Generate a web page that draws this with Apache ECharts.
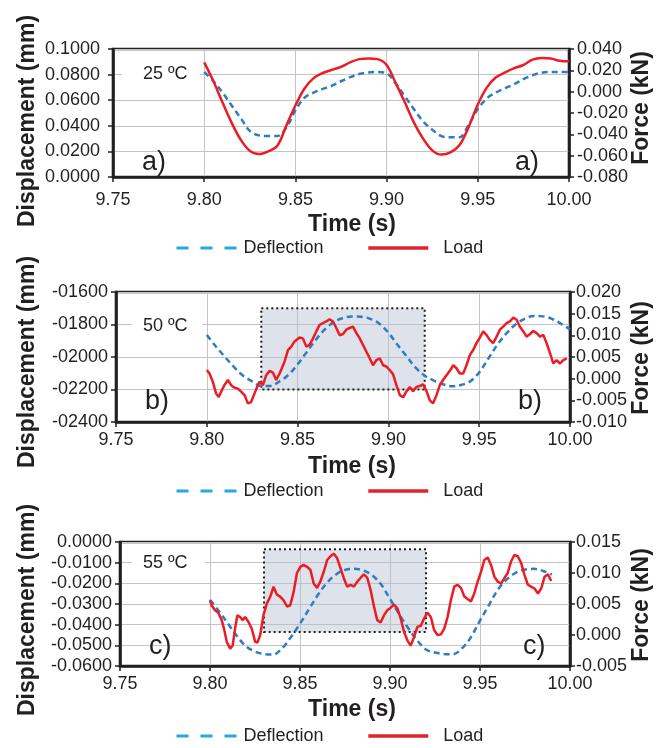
<!DOCTYPE html>
<html>
<head>
<meta charset="utf-8">
<script src="https://cdn.jsdelivr.net/npm/echarts@6/dist/echarts.min.js"></script>
<style>
html,body{margin:0;padding:0;background:#fff;}
#chart{width:665px;height:748px;}
</style>
</head>
<body>
<div id="chart"></div>
<script>
// ---------- DATA ----------
const xTicks = [9.75, 9.80, 9.85, 9.90, 9.95, 10.00];
const panelTemps = ['25 ºC', '50 ºC', '55 ºC'];
const panelLetters = ['a)', 'b)', 'c)'];
const seriesNames = ['Deflection', 'Load'];

const timeA = [9.800,9.805,9.810,9.815,9.820,9.825,9.830,9.835,9.840,9.845,
               9.850,9.855,9.860,9.865,9.870,9.875,9.880,9.885,9.890,9.895,
               9.900,9.905,9.910,9.915,9.920,9.925,9.930,9.935,9.940,9.945,
               9.950,9.955,9.960,9.965,9.970,9.975,9.980,9.985,9.990,9.995,
               10.000];

// Panel a (25 ºC)
const deflA = [0.0820,0.0750,0.0660,0.0560,0.0460,0.0360,0.0325,0.0320,0.0320,0.0385,
               0.0520,0.0620,0.0660,0.0688,0.0713,0.0748,0.0780,0.0805,0.0817,0.0820,
               0.0810,0.0730,0.0630,0.0530,0.0435,0.0370,0.0320,0.0310,0.0310,0.0410,
               0.0530,0.0615,0.0660,0.0695,0.0725,0.0765,0.0795,0.0815,0.0820,0.0820,
               0.0820];
const loadA = [0.0274,0.0100,-0.0100,-0.0290,-0.0450,-0.0555,-0.0585,-0.0560,-0.0510,-0.0320,
               -0.0130,0.0030,0.0127,0.0175,0.0205,0.0233,0.0275,0.0305,0.0312,0.0305,
               0.0250,0.0080,-0.0100,-0.0290,-0.0440,-0.0550,-0.0590,-0.0570,-0.0500,-0.0330,
               -0.0120,0.0040,0.0135,0.0180,0.0220,0.0250,0.0300,0.0315,0.0310,0.0290,
               0.0284];

// Panel b (50 ºC)
const deflB = [-1864,-1935,-2000,-2062,-2115,-2150,-2178,-2178,-2150,-2110,
               -2045,-1970,-1895,-1830,-1785,-1760,-1750,-1752,-1765,-1795,
               -1850,-1925,-1995,-2065,-2115,-2145,-2168,-2180,-2172,-2150,
               -2095,-2010,-1925,-1855,-1800,-1765,-1748,-1750,-1765,-1795,
               -1830];
const timeLoadB = [9.8000,9.8015,9.8033,9.8051,9.8066,9.8079,9.8097,9.8116,9.8134,9.8153,
                   9.8171,9.8189,9.8208,9.8226,9.8244,9.8263,9.8281,9.8290,9.8309,9.8327,
                   9.8346,9.8364,9.8382,9.8401,9.8428,9.8447,9.8465,9.8483,9.8511,9.8529,
                   9.8548,9.8566,9.8585,9.8603,9.8621,9.8640,9.8658,9.8676,9.8695,9.8713,
                   9.8732,9.8750,9.8768,9.8787,9.8805,9.8824,9.8842,9.8860,9.8879,9.8897,
                   9.8915,9.8934,9.8952,9.8971,9.8989,9.9007,9.9026,9.9044,9.9063,9.9081,
                   9.9100,9.9118,9.9136,9.9154,9.9173,9.9191,9.9210,9.9228,9.9246,9.9265,
                   9.9283,9.9301,9.9320,9.9338,9.9357,9.9375,9.9393,9.9412,9.9430,9.9449,
                   9.9467,9.9485,9.9504,9.9522,9.9540,9.9559,9.9577,9.9596,9.9614,9.9632,
                   9.9651,9.9669,9.9688,9.9706,9.9724,9.9743,9.9761,9.9780,9.9798,9.9816,
                   9.9835,9.9853,9.9871,9.9890,9.9908,9.9926,9.9945,9.9963,9.9982];
const loadB = [0.0020,0.0012,-0.0007,-0.0034,-0.0042,-0.0030,-0.0015,-0.0003,-0.0015,-0.0021,
               -0.0023,-0.0030,-0.0038,-0.0057,-0.0054,-0.0034,-0.0015,-0.0007,-0.0015,0.0008,
               0.0018,0.0014,-0.0003,0.0012,0.0039,0.0066,0.0074,0.0086,0.0095,0.0093,
               0.0074,0.0078,0.0093,0.0109,0.0124,0.0128,0.0132,0.0137,0.0132,0.0117,
               0.0100,0.0103,0.0113,0.0117,0.0120,0.0105,0.0093,0.0078,0.0062,0.0047,
               0.0031,0.0043,0.0047,0.0031,0.0028,0.0020,0.0010,-0.0015,-0.0038,-0.0043,
               -0.0029,-0.0019,-0.0029,-0.0019,-0.0017,-0.0013,-0.0029,-0.0050,-0.0057,-0.0038,
               -0.0015,-0.0003,0.0008,0.0018,0.0031,0.0024,0.0012,0.0012,0.0031,0.0055,
               0.0066,0.0082,0.0095,0.0109,0.0101,0.0089,0.0082,0.0097,0.0113,0.0120,
               0.0128,0.0132,0.0141,0.0136,0.0120,0.0109,0.0097,0.0103,0.0110,0.0105,
               0.0097,0.0101,0.0082,0.0059,0.0035,0.0043,0.0035,0.0043,0.0047];
const boxB = [9.83, 9.92, -1700, -2200];

// Panel c (55 ºC)
const timeC = [9.800,9.805,9.810,9.815,9.820,9.825,9.830,9.835,9.840,9.845,
               9.850,9.855,9.860,9.865,9.870,9.875,9.880,9.885,9.890,9.895,
               9.900,9.905,9.910,9.915,9.920,9.925,9.930,9.935,9.940,9.945,
               9.950,9.955,9.960,9.965,9.970,9.975,9.980,9.985,9.990];
const deflC = [-0.0280,-0.0335,-0.0395,-0.0455,-0.0505,-0.0530,-0.0542,-0.0545,-0.0515,-0.0460,
               -0.0395,-0.0325,-0.0255,-0.0197,-0.0157,-0.0135,-0.0130,-0.0137,-0.0160,-0.0205,
               -0.0275,-0.0348,-0.0415,-0.0475,-0.0520,-0.0535,-0.0542,-0.0543,-0.0515,-0.0460,
               -0.0380,-0.0305,-0.0230,-0.0180,-0.0148,-0.0133,-0.0130,-0.0140,-0.0157];
const timeLoadC = [9.8000,9.8009,9.8028,9.8046,9.8065,9.8078,9.8093,9.8112,9.8126,9.8139,
                   9.8152,9.8167,9.8182,9.8195,9.8214,9.8232,9.8251,9.8264,9.8279,9.8297,
                   9.8316,9.8335,9.8353,9.8372,9.8390,9.8409,9.8428,9.8446,9.8465,9.8483,
                   9.8502,9.8520,9.8539,9.8558,9.8576,9.8595,9.8613,9.8632,9.8651,9.8669,
                   9.8688,9.8706,9.8725,9.8743,9.8762,9.8781,9.8799,9.8818,9.8836,9.8855,
                   9.8874,9.8892,9.8911,9.8929,9.8948,9.8967,9.8985,9.9004,9.9022,9.9041,
                   9.9059,9.9078,9.9097,9.9115,9.9134,9.9152,9.9171,9.9190,9.9208,9.9227,
                   9.9245,9.9264,9.9283,9.9301,9.9320,9.9338,9.9357,9.9375,9.9394,9.9413,
                   9.9431,9.9450,9.9468,9.9487,9.9506,9.9524,9.9543,9.9561,9.9580,9.9599,
                   9.9617,9.9636,9.9654,9.9673,9.9691,9.9710,9.9729,9.9747,9.9766,9.9784,
                   9.9803,9.9822,9.9840,9.9859,9.9877,9.9896];
const loadC = [0.0056,0.0048,0.0040,0.0036,0.0024,0.0010,-0.0011,-0.0022,-0.0017,0.0010,
               0.0032,0.0029,0.0024,0.0029,0.0021,0.0010,-0.0011,-0.0012,0.0000,0.0032,
               0.0051,0.0062,0.0078,0.0065,0.0062,0.0056,0.0046,0.0048,0.0070,0.0100,
               0.0110,0.0113,0.0110,0.0105,0.0083,0.0076,0.0086,0.0102,0.0121,0.0127,
               0.0131,0.0124,0.0108,0.0092,0.0078,0.0081,0.0078,0.0086,0.0092,0.0098,
               0.0092,0.0073,0.0046,0.0024,0.0020,0.0032,0.0040,0.0044,0.0049,0.0043,
               0.0027,0.0005,-0.0009,-0.0017,-0.0003,0.0013,0.0015,0.0027,0.0036,0.0029,
               0.0008,0.0000,0.0001,0.0010,0.0029,0.0056,0.0078,0.0081,0.0076,0.0062,
               0.0058,0.0054,0.0067,0.0086,0.0102,0.0121,0.0125,0.0113,0.0094,0.0086,
               0.0083,0.0092,0.0100,0.0119,0.0129,0.0127,0.0116,0.0097,0.0081,0.0078,
               0.0075,0.0067,0.0075,0.0094,0.0098,0.0087];
const boxC = [9.83, 9.92, -0.0035, -0.0435];

// Axis ranges [min, max, interval]
const leftAxes  = [[0, 0.1, 0.02], [-2400, -1600, 200], [-0.06, 0, 0.01]];
const rightAxes = [[-0.08, 0.04, 0.02], [-0.01, 0.02, 0.005], [-0.005, 0.015, 0.005]];

// ---------- CHART ----------
const FONT = '"Liberation Sans", Arial, Helvetica, sans-serif';
const INK = '#231f20';
const zip = (t, v) => t.map((x, i) => [x, v[i]]);
const clean = v => (Math.abs(v) < 1e-9 ? 0 : v);

const leftFmt = [
  v => clean(v).toFixed(4),
  v => '-0' + Math.abs(Math.round(v)),
  v => clean(v).toFixed(4)
];
const rightFmt = v => clean(v).toFixed(3);

const layout = [
  {left:113, right:96, top:49,  height:128, xMargin:14, lMargin:13, rMargin:8,
   tempY:74, tempBox:[122,200], letterY:163, letterL:142, letterR:515, timeY:225, dispY:121, forceY:108, legendY:250},
  {left:116, right:95, top:292, height:130, xMargin:9,  lMargin:8,  rMargin:6,
   tempY:326, tempBox:[132,203], letterY:402, letterL:145, letterR:518, timeY:467, dispY:362, forceY:358, legendY:493},
  {left:120, right:95, top:542, height:124, xMargin:9,  lMargin:8,  rMargin:6,
   tempY:563, tempBox:[132,205], letterY:647, letterL:149, letterR:523, timeY:710, dispY:610, forceY:605, legendY:738}
];

const axisLineStyle = {color: INK, width: 2.6};
const grids = layout.map(l => ({left:l.left, right:l.right, top:l.top, height:l.height,
  show:true, borderColor:INK, borderWidth:2.6, backgroundColor:'transparent'}));

const xAxes = layout.map((l, i) => ({
  gridIndex:i, type:'value', min:xTicks[0], max:xTicks[xTicks.length-1], interval:0.05,
  axisLine:{show:true, onZero:false, lineStyle:axisLineStyle},
  axisTick:{show:true, length:5, lineStyle:{color:INK, width:1.5}},
  axisLabel:{show:true, margin:l.xMargin, fontSize:18, fontFamily:FONT, color:INK,
             showMinLabel:true, showMaxLabel:true, formatter:v => v.toFixed(2)},
  splitLine:{show:true, lineStyle:{color:'#c4c4c4', width:1}}
}));

const yAxes = [];
layout.forEach((l, i) => {
  yAxes.push({
    gridIndex:i, type:'value', position:'left',
    min:leftAxes[i][0], max:leftAxes[i][1], interval:leftAxes[i][2],
    axisLine:{show:true, lineStyle:axisLineStyle},
    axisTick:{show:true, length:5, lineStyle:{color:INK, width:1.5}},
    axisLabel:{margin:l.lMargin, fontSize:18, fontFamily:FONT, color:INK, formatter:leftFmt[i],
               showMinLabel:true, showMaxLabel:true},
    splitLine:{show:true, lineStyle:{color:'#c4c4c4', width:1}}
  });
  yAxes.push({
    gridIndex:i, type:'value', position:'right',
    min:rightAxes[i][0], max:rightAxes[i][1], interval:rightAxes[i][2],
    axisLine:{show:true, lineStyle:axisLineStyle},
    axisTick:{show:true, length:5, lineStyle:{color:INK, width:1.5}},
    axisLabel:{margin:l.rMargin, fontSize:18, fontFamily:FONT, color:INK, formatter:rightFmt,
               showMinLabel:true, showMaxLabel:true},
    splitLine:{show:false}
  });
});

const BLUE = '#2f7cc3', RED = '#ec1c24';
const defl = (i, data, box) => {
  const s = {
    name:seriesNames[0], type:'line', xAxisIndex:i, yAxisIndex:2*i, data:data,
    symbol:'none', smooth:0.35, z:3,
    lineStyle:{color:BLUE, width:2.5, type:[6,4]}, itemStyle:{color:BLUE}
  };
  if (box) {
    s.markArea = {silent:true,
      itemStyle:{color:'rgba(176,186,204,0.42)', borderColor:INK, borderWidth:2, borderType:[2,3]},
      data:[[{coord:[box[0], box[2]]}, {coord:[box[1], box[3]]}]]};
  }
  return s;
};
const load = (i, data, smooth) => ({
  name:seriesNames[1], type:'line', xAxisIndex:i, yAxisIndex:2*i+1, data:data,
  symbol:'none', smooth:smooth, z:4,
  lineStyle:{color:RED, width:2.5}, itemStyle:{color:RED}
});

const series = [
  defl(0, zip(timeA, deflA)), load(0, zip(timeA, loadA), 0.35),
  defl(1, zip(timeA, deflB), boxB), load(1, zip(timeLoadB, loadB), 0),
  defl(2, zip(timeC, deflC), boxC), load(2, zip(timeLoadC, loadC), 0)
];

const legends = layout.map((l, k) => ({
  id:'legend' + k, show:true, orient:'horizontal',
  left:175, top:l.legendY - 11, padding:0, itemGap:43, itemWidth:60, itemHeight:22,
  textStyle:{fontSize:18, fontFamily:FONT, color:INK},
  selectedMode:false,
  data:[
    {name:seriesNames[0], itemStyle:{opacity:0},
     lineStyle:{color:'#25aae1', width:3, type:[12,12], opacity:1},
     textStyle:{padding:[0,0,0,2]}},
    {name:seriesNames[1], itemStyle:{opacity:0},
     lineStyle:{color:'#e0242b', width:3.5, type:'solid', opacity:1},
     textStyle:{padding:[0,0,0,10]}}
  ]
}));

const graphics = [];
layout.forEach((l, i) => {
  graphics.push({type:'rect', z:50, shape:{x:l.tempBox[0], y:l.tempY-10, width:l.tempBox[1]-l.tempBox[0], height:20},
                 style:{fill:'#fff'}});
  graphics.push({type:'text', z:51, x:143, y:l.tempY,
                 style:{text:panelTemps[i], fontSize:18, fontFamily:FONT, fill:INK,
                        align:'left', verticalAlign:'middle', textAlign:'left', textVerticalAlign:'middle'}});
  [l.letterL, l.letterR].forEach(x => graphics.push({type:'text', z:51, x:x, y:l.letterY,
                 style:{text:panelLetters[i], fontSize:27, fontFamily:FONT, fill:INK,
                        align:'left', verticalAlign:'middle', textAlign:'left', textVerticalAlign:'middle'}}));
  graphics.push({type:'text', z:51, x:352, y:l.timeY,
                 style:{text:'Time (s)', fontSize:23, fontWeight:'bold', fontFamily:FONT, fill:INK,
                        align:'center', verticalAlign:'middle', textAlign:'center', textVerticalAlign:'middle'}});
  graphics.push({type:'text', z:51, x:28, y:l.dispY, rotation:Math.PI/2,
                 style:{text:'Displacement (mm)', fontSize:23, fontWeight:'bold', fontFamily:FONT, fill:INK,
                        align:'center', verticalAlign:'middle', textAlign:'center', textVerticalAlign:'middle'}});
  graphics.push({type:'text', z:51, x:642, y:l.forceY, rotation:Math.PI/2,
                 style:{text:'Force (kN)', fontSize:23, fontWeight:'bold', fontFamily:FONT, fill:INK,
                        align:'center', verticalAlign:'middle', textAlign:'center', textVerticalAlign:'middle'}});
});

const chart = echarts.init(document.getElementById('chart'), null, {renderer:'canvas'});
chart.setOption({
  animation:false,
  backgroundColor:'#ffffff',
  textStyle:{fontFamily:FONT},
  grid:grids, xAxis:xAxes, yAxis:yAxes, series:series, legend:legends,
  graphic:{elements:graphics}
});
</script>
</body>
</html>
